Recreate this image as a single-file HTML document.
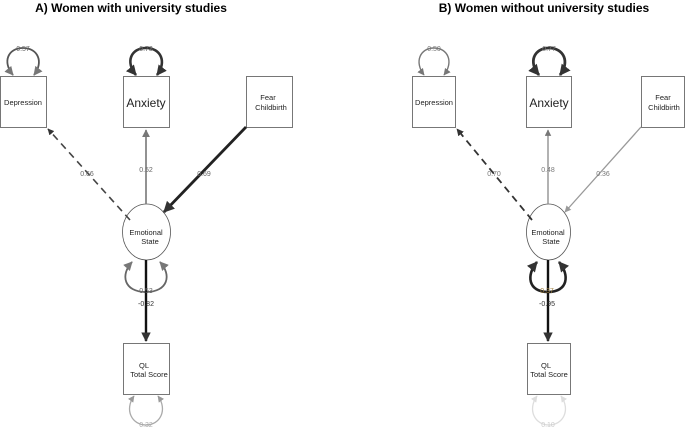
<!DOCTYPE html>
<html><head><style>body{margin:0;background:#fff}svg{display:block}text{font-family:"Liberation Sans",sans-serif}</style></head><body>
<svg width="685" height="427" viewBox="0 0 685 427" xmlns="http://www.w3.org/2000/svg">
<defs>
<marker id="ad" viewBox="0 0 10 10" refX="9" refY="5" markerWidth="4" markerHeight="4" orient="auto-start-reverse" markerUnits="strokeWidth"><path d="M0,0L10,5L0,10z" fill="#333"/></marker>
<marker id="ag" viewBox="0 0 10 10" refX="9" refY="5" markerWidth="5" markerHeight="5" orient="auto-start-reverse" markerUnits="strokeWidth"><path d="M0,0L10,5L0,10z" fill="#777"/></marker>
<marker id="al" viewBox="0 0 10 10" refX="9" refY="5" markerWidth="5" markerHeight="5" orient="auto-start-reverse" markerUnits="strokeWidth"><path d="M0,0L10,5L0,10z" fill="#999"/></marker>
<marker id="ax" viewBox="0 0 10 10" refX="9" refY="5" markerWidth="5" markerHeight="5" orient="auto-start-reverse" markerUnits="strokeWidth"><path d="M0,0L10,5L0,10z" fill="#ddd"/></marker>
</defs>
<text x="131" y="12" font-size="12" font-weight="bold" text-anchor="middle">A) Women with university studies</text>
<text x="544" y="12" font-size="12" font-weight="bold" text-anchor="middle">B) Women without university studies</text>

<!-- Panel A -->
<g fill="#fff" stroke="#555" stroke-width="0.8">
<rect x="0.5" y="76.5" width="46" height="51"/>
<rect x="123.5" y="76.5" width="46" height="51"/>
<rect x="246.5" y="76.5" width="46" height="51"/>
<rect x="123.5" y="343.5" width="46" height="51"/>
<ellipse cx="146.5" cy="232" rx="24" ry="28"/>
</g>
<path d="M13,75 C2,62 8,48 23,48 C38,48 44,62 34,75" fill="none" stroke="#555" stroke-width="1.8" marker-start="url(#ag)" marker-end="url(#ag)"/>
<path d="M136,75 C125,62 131,48 146,48 C161,48 167,62 157,75" fill="none" stroke="#333" stroke-width="2.6" marker-start="url(#ad)" marker-end="url(#ad)"/>
<line x1="130" y1="220" x2="48" y2="129" stroke="#444" stroke-width="1.6" stroke-dasharray="7,5" marker-end="url(#ad)"/>
<line x1="146" y1="204" x2="146" y2="130" stroke="#777" stroke-width="1.6" marker-end="url(#ag)"/>
<line x1="246" y1="127" x2="164" y2="212" stroke="#222" stroke-width="2.8" marker-end="url(#ad)"/>
<path d="M132,262 C120,275 124,292 146,292 C168,292 172,275 160,262" fill="none" stroke="#666" stroke-width="1.8" marker-start="url(#ag)" marker-end="url(#ag)"/>
<line x1="146" y1="260" x2="146" y2="341" stroke="#111" stroke-width="2.4" marker-end="url(#ad)"/>
<path d="M134,396 C124,410 132,425 146,425 C160,425 168,410 158,396" fill="none" stroke="#aaa" stroke-width="1.3" marker-start="url(#al)" marker-end="url(#al)"/>
<g font-size="7" fill="#666" text-anchor="middle">
<text x="23" y="51">0.57</text><text x="146" y="51">0.73</text>
<text x="87" y="176">0.66</text><text x="146" y="172">0.52</text><text x="204" y="176">0.69</text>
<text x="146" y="293">0.53</text><text x="146" y="306" fill="#333">-0.82</text><text x="146" y="427" fill="#aaa">0.32</text>
</g>
<g font-size="7.5" fill="#222" text-anchor="middle">
<text x="23" y="105">Depression</text>
<text x="146" y="107" font-size="12">Anxiety</text>
<text x="268" y="100">Fear</text><text x="271" y="110">Childbirth</text>
<text x="146" y="235">Emotional</text><text x="150" y="244">State</text>
<text x="144" y="368">QL</text><text x="149" y="377">Total Score</text>
</g>

<!-- Panel B -->
<g fill="#fff" stroke="#555" stroke-width="0.8">
<rect x="412.5" y="76.5" width="43" height="51"/>
<rect x="526.5" y="76.5" width="45" height="51"/>
<rect x="641.5" y="76.5" width="43" height="51"/>
<rect x="527.5" y="343.5" width="43" height="51"/>
<ellipse cx="548.5" cy="232" rx="22" ry="28"/>
</g>
<path d="M424,75 C414,62 420,48 434,48 C448,48 454,62 444,75" fill="none" stroke="#777" stroke-width="1.4" marker-start="url(#ag)" marker-end="url(#ag)"/>
<path d="M539,75 C528,62 534,48 549,48 C564,48 570,62 560,75" fill="none" stroke="#333" stroke-width="2.8" marker-start="url(#ad)" marker-end="url(#ad)"/>
<line x1="532" y1="220" x2="457" y2="129" stroke="#333" stroke-width="1.8" stroke-dasharray="7,5" marker-end="url(#ad)"/>
<line x1="548" y1="204" x2="548" y2="130" stroke="#888" stroke-width="1.3" marker-end="url(#ag)"/>
<line x1="641" y1="127" x2="565" y2="212" stroke="#999" stroke-width="1.3" marker-end="url(#al)"/>
<path d="M537,262 C526,275 528,292 548,292 C568,292 570,275 559,262" fill="none" stroke="#222" stroke-width="2.6" marker-start="url(#ad)" marker-end="url(#ad)"/>
<line x1="548" y1="260" x2="548" y2="341" stroke="#111" stroke-width="2.4" marker-end="url(#ad)"/>
<path d="M537,396 C527,410 535,425 549,425 C563,425 571,410 561,396" fill="none" stroke="#ddd" stroke-width="1.3" marker-start="url(#ax)" marker-end="url(#ax)"/>
<g font-size="7" fill="#777" text-anchor="middle">
<text x="434" y="51">0.50</text><text x="549" y="51">0.77</text>
<text x="494" y="176">0.70</text><text x="548" y="172">0.48</text><text x="603" y="176">0.36</text>
<text x="547" y="293" fill="#a08040">0.37</text><text x="547" y="306" fill="#333">-0.95</text><text x="548" y="427" fill="#ccc">0.10</text>
</g>
<g font-size="7.5" fill="#222" text-anchor="middle">
<text x="434" y="105">Depression</text>
<text x="549" y="107" font-size="12">Anxiety</text>
<text x="663" y="100">Fear</text><text x="664" y="110">Childbirth</text>
<text x="548" y="235">Emotional</text><text x="551" y="244">State</text>
<text x="546" y="368">QL</text><text x="549" y="377">Total Score</text>
</g>
</svg>
</body></html>
